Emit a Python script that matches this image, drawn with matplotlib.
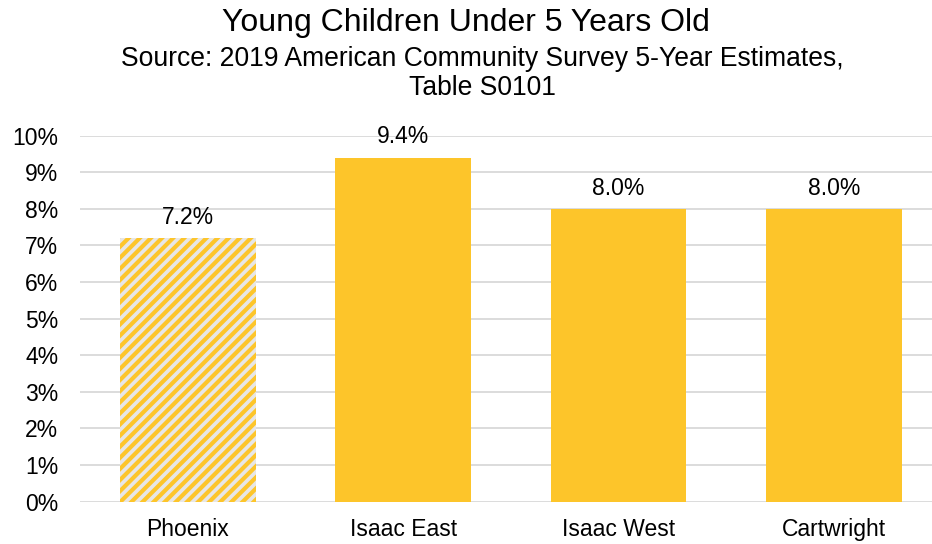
import matplotlib.pyplot as plt
from matplotlib.ticker import FuncFormatter

plt.rcParams['font.family'] = ['Liberation Sans', 'DejaVu Sans']
plt.rcParams['hatch.linewidth'] = 3.0

# data
places = ['Phoenix', 'Isaac East', 'Isaac West', 'Cartwright']
pct_under5 = [7.2, 9.4, 8.0, 8.0]

yellow = '#FDC52A'

fig = plt.figure(figsize=(9.32, 5.44), dpi=100)
ax = fig.add_axes([0.0858, 0.0778, 0.9142, 0.6728])

bars = ax.bar(range(len(places)), pct_under5, width=0.63, color=yellow, linewidth=0, zorder=2)
# Phoenix is the reference city -> striped
bars[0].set_facecolor('#E7E6E6')
bars[0].set_edgecolor(yellow)
bars[0].set_hatch('///')

for i, v in enumerate(pct_under5):
    ax.text(i, v + 0.25, f'{v:.1f}%', ha='center', va='bottom', fontsize=16.5, color='#000000')

ax.set_ylim(0, 10)
ax.set_xlim(-0.5, 3.455)
ax.set_yticks(range(0, 11))
ax.yaxis.set_major_formatter(FuncFormatter(lambda y, _: f'{y:.0f}%'))
ax.set_xticks(range(len(places)))
ax.set_xticklabels(places)
ax.tick_params(axis='both', length=0, labelsize=16.5, colors='#000000')
ax.tick_params(axis='y', pad=15.5)
ax.tick_params(axis='x', pad=12)
ax.grid(axis='y', color='#D9D9D9', linewidth=1.3, zorder=0)
ax.set_axisbelow(True)
for s in ax.spines.values():
    s.set_visible(False)

fig.text(0.5, 0.958, 'Young Children Under 5 Years Old', ha='center', va='center', fontsize=23)
fig.text(0.518, 0.892, 'Source: 2019 American Community Survey 5-Year Estimates,', ha='center', va='center', fontsize=19.1)
fig.text(0.518, 0.839, 'Table S0101', ha='center', va='center', fontsize=19.1)

fig.savefig('out.png', dpi=100)
